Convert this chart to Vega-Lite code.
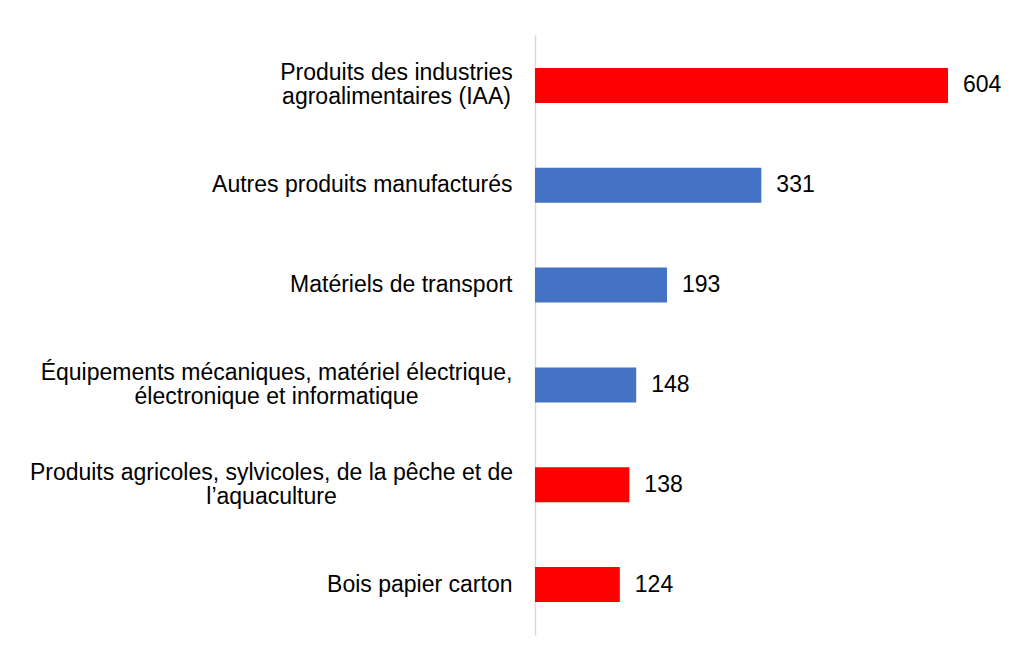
{
  "$schema": "https://vega.github.io/schema/vega-lite/v6.json",
  "width": 465,
  "height": 600,
  "autosize": {"type": "none"},
  "padding": {"left": 535, "top": 35, "right": 15, "bottom": 23},
  "background": "white",
  "config": {"view": {"stroke": null}, "font": "Liberation Sans"},
  "data": {
    "values": [
      {"categorie": "Produits des industries\nagroalimentaires (IAA)", "valeur": 604, "groupe": "rouge"},
      {"categorie": "Autres produits manufacturés", "valeur": 331, "groupe": "bleu"},
      {"categorie": "Matériels de transport", "valeur": 193, "groupe": "bleu"},
      {"categorie": "Équipements mécaniques, matériel électrique,\nélectronique et informatique", "valeur": 148, "groupe": "bleu"},
      {"categorie": "Produits agricoles, sylvicoles, de la pêche et de\nl’aquaculture", "valeur": 138, "groupe": "rouge"},
      {"categorie": "Bois papier carton", "valeur": 124, "groupe": "rouge"}
    ]
  },
  "encoding": {
    "y": {
      "field": "categorie",
      "type": "nominal",
      "sort": null,
      "scale": {"paddingInner": 0.65, "paddingOuter": 0.33},
      "axis": {
        "title": null,
        "domainColor": "#d9d9d9",
        "domainWidth": 1.5,
        "ticks": false,
        "tickSize": 0,
        "labelAlign": {"condition": {"test": "indexof(datum.value, '\\n') >= 0", "value": "center"}, "value": "right"},
        "labelOffset": {"condition": {"test": "indexof(datum.value, '\\n') >= 0", "value": -12}, "value": 0},
        "labelPadding": {"condition": [
          {"test": "indexof(datum.value, 'IAA') >= 0", "value": 139},
          {"test": "indexof(datum.value, 'informatique') >= 0", "value": 259},
          {"test": "indexof(datum.value, 'aquaculture') >= 0", "value": 264}
        ], "value": 23},
        "labelFontSize": 23,
        "labelColor": "#000000",
        "labelLimit": 600,
        "labelLineHeight": 24,
        "labelExpr": "split(datum.label, '\\n')"
      }
    },
    "x": {
      "field": "valeur",
      "type": "quantitative",
      "scale": {"domain": [0, 680]},
      "axis": null
    }
  },
  "layer": [
    {
      "mark": {"type": "bar"},
      "encoding": {
        "color": {
          "field": "groupe",
          "type": "nominal",
          "scale": {"domain": ["rouge", "bleu"], "range": ["#ff0000", "#4472c4"]},
          "legend": null
        }
      }
    },
    {
      "mark": {"type": "text", "align": "left", "baseline": "middle", "dx": 15, "fontSize": 23, "color": "#000000"},
      "encoding": {"text": {"field": "valeur", "type": "quantitative"}}
    }
  ]
}
